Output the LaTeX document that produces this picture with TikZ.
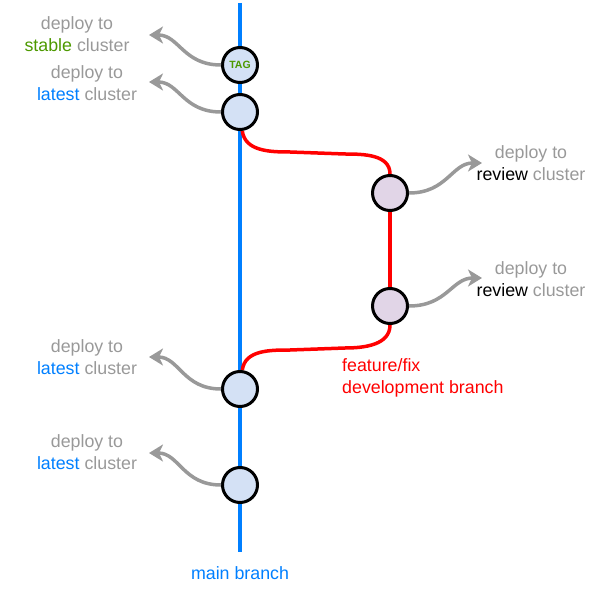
\documentclass[tikz,border=0pt]{standalone}
\usepackage{fontspec}
\setmainfont{Liberation Sans}
\usetikzlibrary{arrows.meta,backgrounds}
\definecolor{MainBlue}{HTML}{007FFF}
\definecolor{FeatRed}{HTML}{FF0000}
\definecolor{StableGreen}{HTML}{4D9900}
\definecolor{DeployGray}{HTML}{999999}
\definecolor{CommitBlue}{HTML}{D4E1F5}
\definecolor{CommitPurple}{HTML}{E1D5E7}

\begin{document}
\begin{tikzpicture}[x=1pt, y=-1pt,
  commit/.style={circle, draw=black, line width=3pt, minimum size=35pt, inner sep=0pt},
  maincommit/.style={commit, fill=CommitBlue},
  featcommit/.style={commit, fill=CommitPurple},
  mainline/.style={draw=MainBlue, line width=3.5pt},
  featline/.style={draw=FeatRed, line width=3.5pt},
  deploy/.style={draw=DeployGray, line width=3.5pt,
                 -{Stealth[inset=4pt, length=14pt, width=17pt]}},
  lbl/.style={align=center, font=\fontsize{17.8}{22}\selectfont, text=DeployGray, inner sep=0pt}]
  \useasboundingbox (0,0) rectangle (590,593);

  % commits on the main branch
  \coordinate (top) at (240,3);
  \coordinate (bot) at (240,552);
  \node[maincommit] (tag) at (240,65) {\fontsize{10.5}{10.5}\selectfont\bfseries\color{StableGreen}TAG};
  \node[maincommit] (c1) at (240,112) {};
  \node[maincommit] (c2) at (240,389) {};
  \node[maincommit] (c3) at (240,485) {};

  % commits on the feature branch
  \node[featcommit] (f1) at (390,193) {};
  \node[featcommit] (f2) at (390,306) {};

  \begin{scope}[on background layer]
    \draw[mainline] (top) -- (tag) -- (c1) -- (c2) -- (c3) -- (bot);
    \draw[featline] (c1.-83) to[out=-83,in=180] (290,152) -- (345,154)
      to[out=0,in=90] (f1.north);
    \draw[featline] (f1) -- (f2);
    \draw[featline] (f2.south) to[out=-90,in=0] (345,348) -- (290,350)
      to[out=180,in=83] (c2.83);
  \end{scope}

  % deployments
  \coordinate (t0) at (149,35);
  \coordinate (t1) at (149,82);
  \coordinate (t2) at (149,357);
  \coordinate (t3) at (149,453);
  \coordinate (t4) at (482,163);
  \coordinate (t5) at (482,278);
  \foreach \c/\t in {tag/t0, c1/t1, c2/t2, c3/t3}
    \draw[deploy] (\c.west) .. controls +(-38,0) and +(30,0) .. (\t);
  \foreach \c/\t in {f1/t4, f2/t5}
    \draw[deploy] (\c.east) .. controls +(38,0) and +(-30,0) .. (\t);

  \node[lbl] (lstable) at (77,34) {deploy to\\\textcolor{StableGreen}{stable} cluster};
  \node[lbl] (llatest1) at (87,83) {deploy to\\\textcolor{MainBlue}{latest} cluster};
  \node[lbl] (llatest2) at (87,357) {deploy to\\\textcolor{MainBlue}{latest} cluster};
  \node[lbl] (llatest3) at (87,452) {deploy to\\\textcolor{MainBlue}{latest} cluster};
  \node[lbl] (lreview1) at (531,163) {deploy to\\\textcolor{black}{review} cluster};
  \node[lbl] (lreview2) at (531,279) {deploy to\\\textcolor{black}{review} cluster};

  % branch names
  \node[lbl, align=left, anchor=west, text=FeatRed] (lfeat) at (342,378) {feature/fix\\development branch};
  \node[lbl, text=MainBlue] (lmain) at (240,573) {main branch};
\end{tikzpicture}
\end{document}
